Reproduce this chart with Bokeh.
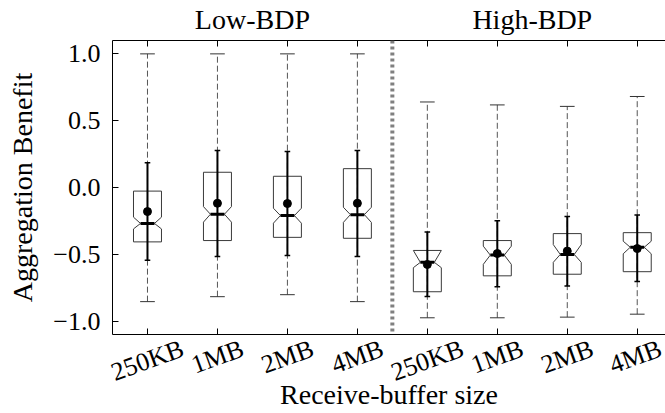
import math
from bokeh.plotting import figure
from bokeh.models import Range1d, FixedTicker, LinearAxis, Span
from bokeh.embed import file_html
from bokeh.resources import INLINE

# ---------------- data ----------------
groups = ["Low-BDP", "High-BDP"]
categories = ["250KB", "1MB", "2MB", "4MB", "250KB", "1MB", "2MB", "4MB"]
positions = [1, 2, 3, 4, 5, 6, 7, 8]
group_centers = [2.5, 6.5]
separator = 4.5

whisker_max = [1.0, 1.0, 1.0, 1.0, 0.64, 0.618, 0.607, 0.681]
whisker_min = [-0.854, -0.817, -0.802, -0.854, -0.975, -0.975, -0.97, -0.948]
inner_hi = [0.185, 0.277, 0.27, 0.277, -0.333, -0.249, -0.217, -0.205]
inner_lo = [-0.545, -0.516, -0.508, -0.516, -0.815, -0.743, -0.738, -0.704]
q3 = [-0.027, 0.114, 0.084, 0.141, -0.471, -0.397, -0.345, -0.338]
q1 = [-0.407, -0.397, -0.373, -0.38, -0.78, -0.661, -0.649, -0.63]
median = [-0.269, -0.2, -0.21, -0.203, -0.56, -0.506, -0.501, -0.447]
notch_hi = [-0.222, -0.143, -0.155, -0.148, -0.471, -0.439, -0.427, -0.402]
notch_lo = [-0.31, -0.259, -0.267, -0.261, -0.6, -0.575, -0.56, -0.496]
mean = [-0.18, -0.118, -0.12, -0.118, -0.576, -0.494, -0.476, -0.457]

y_ticks = [-1.0, -0.5, 0.0, 0.5, 1.0]
y_tick_labels = ["\u22121.0", "\u22120.5", "0.0", "0.5", "1.0"]

FONT = "Liberation Serif"
TICK_PX = 26
LABEL_PX = 28
ROT_DEG = 20
BOX_HW = 0.2
NOTCH_HW = 0.1
CAP_HW = 0.105
ICAP_HW = 0.04

W, H = 665, 413
ML, MR, MT, MB = 112, 0, 37, 79
X0, X1 = 0.5, 8.404

p = figure(width=W, height=H, x_range=Range1d(X0, X1), y_range=Range1d(-1.1, 1.1),
           toolbar_location=None, output_backend="svg", x_axis_location=None,
           min_border_left=ML, min_border_right=MR, min_border_top=MT, min_border_bottom=MB)
p.outline_line_color = None
p.xgrid.visible = False
p.ygrid.visible = False
p.background_fill_color = "white"
p.border_fill_color = "white"

# ---- bottom axis: inward (minor) ticks at the boxes, rotated category labels ----
# Bokeh anchors a rotated label at its right end; shift the anchor so the text is centred on its box.
char_em = {"0": .5, "1": .5, "2": .5, "4": .5, "5": .5, "K": .722, "M": .889, "B": .667}
px_per_unit = (W - ML - MR) / (X1 - X0)
label_ticks = []
for x, c in zip(positions, categories):
    w = sum(char_em.get(ch, .5) for ch in c) * TICK_PX
    label_ticks.append(x + (w * math.cos(math.radians(ROT_DEG)) / 2) / px_per_unit)
bottom = LinearAxis(ticker=FixedTicker(ticks=label_ticks, minor_ticks=positions),
                    major_label_overrides={t: c for t, c in zip(label_ticks, categories)},
                    major_label_orientation=math.radians(ROT_DEG),
                    major_label_text_font=FONT, major_label_text_font_size=f"{TICK_PX}px",
                    major_label_text_color="black", major_label_standoff=13,
                    major_tick_line_color=None, major_tick_in=0, major_tick_out=0,
                    minor_tick_line_color="black", minor_tick_in=6, minor_tick_out=0,
                    axis_line_color="black",
                    axis_label="Receive-buffer size", axis_label_text_font=FONT,
                    axis_label_text_font_size=f"{LABEL_PX}px", axis_label_text_font_style="normal",
                    axis_label_text_color="black", axis_label_standoff=-24)
p.add_layout(bottom, "below")

# ---- top axis: inward ticks at the boxes, group titles ----
top = LinearAxis(ticker=FixedTicker(ticks=group_centers, minor_ticks=positions),
                 major_label_overrides={t: g for t, g in zip(group_centers, groups)},
                 major_label_text_font=FONT, major_label_text_font_size=f"{LABEL_PX}px",
                 major_label_text_color="black", major_label_standoff=6,
                 major_tick_line_color=None, major_tick_in=0, major_tick_out=0,
                 minor_tick_line_color="black", minor_tick_in=6, minor_tick_out=0,
                 axis_line_color="black")
p.add_layout(top, "above")

# ---- left axis ----
p.yaxis.ticker = FixedTicker(ticks=y_ticks)
p.yaxis.major_label_overrides = {t: l for t, l in zip(y_ticks, y_tick_labels)}
p.yaxis.major_tick_in = 6
p.yaxis.major_tick_out = 0
p.yaxis.minor_tick_line_color = None
p.yaxis.major_label_standoff = 12
p.yaxis.major_label_text_font = FONT
p.yaxis.major_label_text_font_size = f"{TICK_PX}px"
p.yaxis.major_label_text_color = "black"
p.yaxis.axis_line_color = "black"
p.yaxis.axis_label = "Aggregation Benefit"
p.yaxis.axis_label_text_font = FONT
p.yaxis.axis_label_text_font_size = f"{LABEL_PX}px"
p.yaxis.axis_label_text_font_style = "normal"
p.yaxis.axis_label_text_color = "black"
p.yaxis.axis_label_standoff = 12

# separator
p.add_layout(Span(location=separator, dimension="height", line_color="#808080",
                  line_width=4, line_dash="3 3"))

# outer dashed whiskers
p.segment(x0=positions, y0=whisker_min, x1=positions, y1=whisker_max,
          line_color="#555555", line_width=1, line_dash="6 3")
# outer caps
p.segment(x0=[x - CAP_HW for x in positions], y0=whisker_max,
          x1=[x + CAP_HW for x in positions], y1=whisker_max, line_color="#333333", line_width=1)
p.segment(x0=[x - CAP_HW for x in positions], y0=whisker_min,
          x1=[x + CAP_HW for x in positions], y1=whisker_min, line_color="#333333", line_width=1)

# notched boxes
xs, ys = [], []
for x, a, b, m, nl, nh in zip(positions, q1, q3, median, notch_lo, notch_hi):
    L, R, Li, Ri = x - BOX_HW, x + BOX_HW, x - NOTCH_HW, x + NOTCH_HW
    xs.append([L, L, Li, L, L, R, R, Ri, R, R, L])
    ys.append([a, nl, m, nh, b, b, nh, m, nl, a, a])
p.patches(xs=xs, ys=ys, fill_color=None, line_color="#3a3a3a", line_width=1)

# inner solid whiskers
p.segment(x0=positions, y0=inner_lo, x1=positions, y1=inner_hi, line_color="black", line_width=2)
p.segment(x0=[x - ICAP_HW for x in positions], y0=inner_hi,
          x1=[x + ICAP_HW for x in positions], y1=inner_hi, line_color="black", line_width=1.5)
p.segment(x0=[x - ICAP_HW for x in positions], y0=inner_lo,
          x1=[x + ICAP_HW for x in positions], y1=inner_lo, line_color="black", line_width=1.5)

# medians
p.segment(x0=[x - NOTCH_HW for x in positions], y0=median,
          x1=[x + NOTCH_HW for x in positions], y1=median, line_color="black", line_width=3)
# means
p.scatter(x=positions, y=mean, size=8, marker="circle", fill_color="black", line_color="black")

open("out.html", "w").write(file_html(p, INLINE))
